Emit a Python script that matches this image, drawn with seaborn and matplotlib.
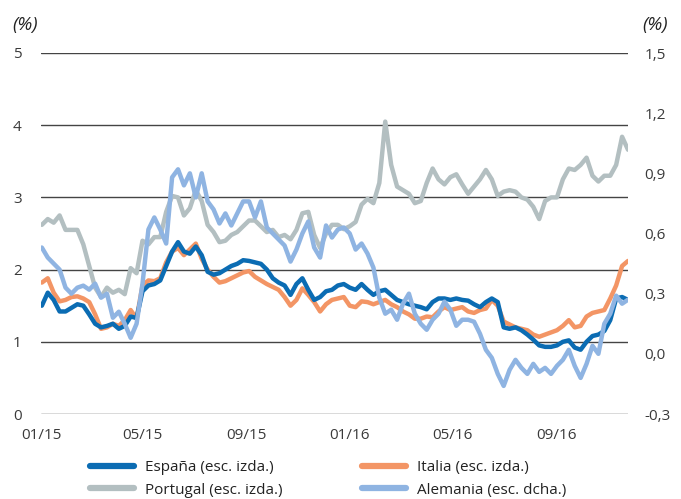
import numpy as np
import pandas as pd
import matplotlib
matplotlib.use("Agg")
import matplotlib.pyplot as plt
import matplotlib.dates as mdates
from matplotlib.ticker import FuncFormatter, FixedLocator
import seaborn as sns

# ---- data (weekly) ----
start_date = "2015-01-02"
n_weeks = 100

espana = [1.50, 1.68, 1.58, 1.42, 1.42, 1.47, 1.52, 1.50, 1.38, 1.25,
          1.20, 1.22, 1.25, 1.18, 1.22, 1.35, 1.33, 1.70, 1.78, 1.80,
          1.85, 2.05, 2.25, 2.38, 2.25, 2.22, 2.32, 2.20, 1.97, 1.93,
          1.95, 2.00, 2.05, 2.08, 2.13, 2.12, 2.10, 2.08, 2.00, 1.88,
          1.82, 1.78, 1.65, 1.80, 1.88, 1.72, 1.58, 1.62, 1.70, 1.72,
          1.78, 1.80, 1.75, 1.72, 1.80, 1.72, 1.65, 1.70, 1.72, 1.65,
          1.58, 1.55, 1.52, 1.50, 1.48, 1.45, 1.55, 1.60, 1.60, 1.58,
          1.60, 1.58, 1.57, 1.52, 1.48, 1.55, 1.60, 1.55, 1.20, 1.18,
          1.20, 1.16, 1.10, 1.03, 0.95, 0.93, 0.93, 0.95, 1.00, 1.02,
          0.92, 0.89, 1.00, 1.08, 1.10, 1.15, 1.30, 1.60, 1.62, 1.58]

italia = [1.82, 1.88, 1.68, 1.56, 1.58, 1.62, 1.63, 1.60, 1.55, 1.38,
          1.18, 1.20, 1.25, 1.22, 1.30, 1.44, 1.32, 1.78, 1.85, 1.84,
          1.88, 2.10, 2.25, 2.30, 2.20, 2.28, 2.36, 2.15, 2.00, 1.90,
          1.82, 1.84, 1.88, 1.92, 1.96, 1.98, 1.90, 1.85, 1.80, 1.76,
          1.72, 1.62, 1.50, 1.58, 1.74, 1.65, 1.55, 1.42, 1.52, 1.58,
          1.60, 1.62, 1.50, 1.48, 1.56, 1.55, 1.52, 1.55, 1.58, 1.52,
          1.48, 1.42, 1.38, 1.32, 1.32, 1.35, 1.34, 1.42, 1.48, 1.44,
          1.46, 1.48, 1.42, 1.40, 1.44, 1.46, 1.58, 1.50, 1.28, 1.24,
          1.20, 1.18, 1.16, 1.10, 1.07, 1.10, 1.13, 1.16, 1.22, 1.30,
          1.20, 1.22, 1.35, 1.40, 1.42, 1.44, 1.60, 1.78, 2.05, 2.12]

portugal = [2.62, 2.70, 2.65, 2.75, 2.55, 2.55, 2.55, 2.35, 2.05, 1.75,
            1.62, 1.75, 1.68, 1.72, 1.66, 2.02, 1.95, 2.40, 2.35, 2.45,
            2.45, 2.80, 3.02, 3.00, 2.75, 2.85, 3.10, 2.95, 2.62, 2.52,
            2.38, 2.40, 2.48, 2.52, 2.60, 2.68, 2.68, 2.60, 2.52, 2.55,
            2.45, 2.48, 2.42, 2.55, 2.78, 2.80, 2.48, 2.30, 2.50, 2.62,
            2.62, 2.56, 2.60, 2.66, 2.90, 2.98, 2.92, 3.20, 4.05, 3.45,
            3.15, 3.10, 3.05, 2.92, 2.95, 3.20, 3.40, 3.25, 3.18, 3.28,
            3.32, 3.18, 3.05, 3.15, 3.25, 3.38, 3.25, 3.02, 3.08, 3.10,
            3.08, 3.00, 2.97, 2.87, 2.70, 2.95, 3.00, 3.00, 3.25, 3.40,
            3.38, 3.45, 3.55, 3.30, 3.22, 3.30, 3.30, 3.45, 3.84, 3.66]

alemania = [0.53, 0.48, 0.45, 0.42, 0.33, 0.30, 0.33, 0.34, 0.32, 0.35,
            0.28, 0.30, 0.18, 0.21, 0.15, 0.08, 0.15, 0.35, 0.62, 0.68,
            0.62, 0.55, 0.88, 0.92, 0.84, 0.90, 0.78, 0.90, 0.76, 0.72,
            0.65, 0.70, 0.64, 0.70, 0.76, 0.76, 0.68, 0.76, 0.63, 0.60,
            0.57, 0.54, 0.46, 0.52, 0.60, 0.66, 0.53, 0.48, 0.64, 0.58,
            0.62, 0.63, 0.60, 0.52, 0.55, 0.50, 0.43, 0.28, 0.20, 0.22,
            0.17, 0.25, 0.30, 0.20, 0.15, 0.12, 0.17, 0.20, 0.26, 0.22,
            0.14, 0.17, 0.17, 0.16, 0.10, 0.02, -0.02, -0.10, -0.16, -0.08,
            -0.03, -0.07, -0.10, -0.05, -0.09, -0.07, -0.10, -0.06, -0.03, 0.02,
            -0.06, -0.12, -0.05, 0.04, 0.00, 0.15, 0.20, 0.29, 0.25, 0.27]

labels = ["España (esc. izda.)", "Italia (esc. izda.)",
          "Portugal (esc. izda.)", "Alemania (esc. dcha.)"]
colors = {"espana": "#0b6cb3", "italia": "#f39565",
          "portugal": "#b3bfc1", "alemania": "#8fb4e2"}

left_ticks = [0, 1, 2, 3, 4, 5]
right_ticks = [-0.3, 0.0, 0.3, 0.6, 0.9, 1.2, 1.5]

dates = pd.date_range(start_date, periods=n_weeks, freq="7D")
df = pd.DataFrame({"fecha": dates, "espana": espana, "italia": italia,
                   "portugal": portugal, "alemania": alemania})

# ---- style ----
sns.set_theme(style="white")
plt.rcParams["font.family"] = ["Open Sans", "DejaVu Sans"]
text_color = "#3a3a3a"

fig = plt.figure(figsize=(6.81, 4.99), dpi=100)
ax = fig.add_axes([41 / 681, 1 - 414 / 499, (628 - 41) / 681, (414 - 53) / 499])
ax2 = ax.twinx()

lw = 3.2
sns.lineplot(data=df, x="fecha", y="portugal", ax=ax, color=colors["portugal"],
             lw=lw, label=labels[2], legend=False)
sns.lineplot(data=df, x="fecha", y="italia", ax=ax, color=colors["italia"],
             lw=lw, label=labels[1], legend=False)
sns.lineplot(data=df, x="fecha", y="espana", ax=ax, color=colors["espana"],
             lw=lw, label=labels[0], legend=False)
sns.lineplot(data=df, x="fecha", y="alemania", ax=ax2, color=colors["alemania"],
             lw=lw, label=labels[3], legend=False)

ax.set_ylim(0, 5)
ax2.set_ylim(-0.3, 1.5)
ax.set_xlim(pd.Timestamp("2015-01-01"), dates[-1])

ax.yaxis.set_major_locator(FixedLocator(left_ticks))
ax2.yaxis.set_major_locator(FixedLocator(right_ticks))
ax2.yaxis.set_major_formatter(FuncFormatter(lambda v, p: f"{v:.1f}".replace(".", ",").replace("-0,0", "0,0")))

ax.xaxis.set_major_locator(mdates.MonthLocator(bymonth=[1, 5, 9]))
ax.xaxis.set_major_formatter(mdates.DateFormatter("%m/%y"))

ax.grid(axis="y", color="#444444", lw=1.0)
ax.grid(axis="x", visible=False)
ax2.grid(False)
for a in (ax, ax2):
    for s in a.spines.values():
        s.set_visible(False)
    a.set_xlabel("")
    a.set_ylabel("")
    a.tick_params(length=0, labelsize=11, labelcolor=text_color)
ax.tick_params(axis="x", pad=10)
ax.tick_params(axis="y", pad=14)
ax2.tick_params(axis="y", pad=12)

fig.text(12 / 681, 1 - 25 / 499, "(%)", fontsize=13.5, style="italic",
         color="#222222", va="center", ha="left")
fig.text(668 / 681, 1 - 25 / 499, "(%)", fontsize=13.5, style="italic",
         color="#222222", va="center", ha="right")

h1, l1 = ax.get_legend_handles_labels()
h2, l2 = ax2.get_legend_handles_labels()
hmap = dict(zip(l1 + l2, h1 + h2))
order = [labels[0], labels[2], labels[1], labels[3]]
leg = fig.legend([hmap[k] for k in order], order, ncol=2, frameon=False,
                 loc="upper left", bbox_to_anchor=(84 / 681, 1 - 454 / 499),
                 fontsize=11, handlelength=2.9, handletextpad=0.7,
                 columnspacing=5.2, labelspacing=0.5, borderaxespad=0.0)
for line in leg.get_lines():
    line.set_linewidth(4.5)
    line.set_solid_capstyle("round")
for t in leg.get_texts():
    t.set_color("#222222")

fig.savefig("out.png", dpi=100)
